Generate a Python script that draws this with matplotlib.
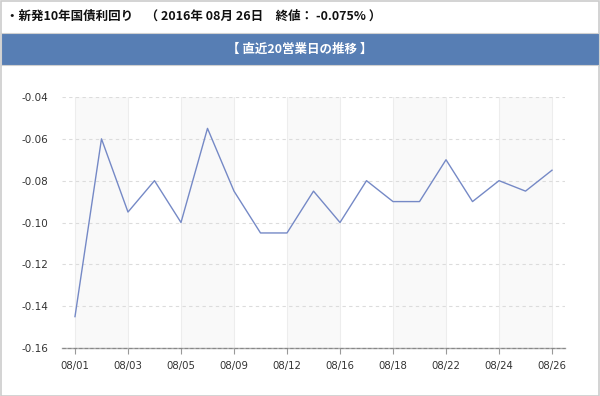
import matplotlib
matplotlib.use("Agg")
import matplotlib.pyplot as plt
from matplotlib.patches import Rectangle

plt.rcParams['font.family'] = ['Noto Sans CJK JP', 'DejaVu Sans']
plt.rcParams['axes.unicode_minus'] = False

dates = ["08/01", "08/02", "08/03", "08/04", "08/05", "08/08", "08/09", "08/10",
         "08/12", "08/15", "08/16", "08/17", "08/18", "08/19", "08/22", "08/23",
         "08/24", "08/25", "08/26"]
yields = [-0.145, -0.060, -0.095, -0.080, -0.100, -0.055, -0.085, -0.105,
          -0.105, -0.085, -0.100, -0.080, -0.090, -0.090, -0.070, -0.090,
          -0.080, -0.085, -0.075]
y_ticks = [-0.16, -0.14, -0.12, -0.10, -0.08, -0.06, -0.04]
header = "・新発10年国債利回り　（ 2016年 08月 26日　終値： -0.075% ）"
band_title = "【 直近20営業日の推移 】"

W, H = 600, 396
fig = plt.figure(figsize=(W / 100, H / 100), dpi=100)
fig.patch.set_facecolor('white')

# outer border
fig.patches.append(Rectangle((0.5 / W, 0.5 / H), (W - 1.5) / W, (H - 1.5) / H,
                             transform=fig.transFigure, fill=False,
                             edgecolor='#cccccc', linewidth=1.2))
# blue title bar
fig.patches.append(Rectangle((1 / W, (H - 65) / H), (W - 2) / W, 32 / H,
                             transform=fig.transFigure, facecolor='#577eb4',
                             edgecolor='#d0d0d0', linewidth=0.8))
fig.text(6 / W, (H - 16) / H, header, fontsize=9, fontweight='bold',
         color='#111111', ha='left', va='center')
fig.text(0.5, (H - 49) / H, band_title, fontsize=9, fontweight='bold',
         color='white', ha='center', va='center')

left, right, top, bottom = 62, 565, 97, 348
ax = fig.add_axes([left / W, (H - bottom) / H, (right - left) / W, (bottom - top) / H])
x = list(range(len(dates)))
ax.set_xlim(-0.49, len(dates) - 1 + 0.49)
ax.set_ylim(-0.16, -0.04)

tick_idx = x[::2]
# alternating bands
for i, t in enumerate(tick_idx[:-1]):
    if i % 2 == 0:
        ax.axvspan(t, tick_idx[i + 1], color='#f9f9f9', zorder=0, lw=0)
for t in tick_idx:
    ax.axvline(t, color='#ededed', lw=0.8, zorder=1)
for yv in y_ticks[1:]:
    ax.axhline(yv, color='#dcdcdc', lw=0.8, ls=(0, (3, 3)), zorder=1)

ax.plot(x, yields, color='#7589c6', lw=1.0, zorder=3)

for s in ['top', 'right', 'left']:
    ax.spines[s].set_visible(False)
ax.spines['bottom'].set_color('#aaaaaa')
ax.spines['bottom'].set_linewidth(1.0)
ax.axhline(-0.16, color='#888888', lw=0.8, ls=(0, (3, 2)), zorder=4, clip_on=False)

ax.set_xticks(tick_idx)
ax.set_xticklabels([dates[i] for i in tick_idx], family='DejaVu Sans')
ax.set_yticks(y_ticks)
ax.set_yticklabels([f"{v:.2f}" for v in y_ticks], family='DejaVu Sans')
ax.tick_params(axis='x', length=4, color='#999999', labelsize=7.3, pad=5, labelcolor='#333333')
ax.tick_params(axis='y', length=0, labelsize=7.5, pad=10, labelcolor='#333333')
ax.set_facecolor('white')

fig.savefig("out.png", dpi=100)
